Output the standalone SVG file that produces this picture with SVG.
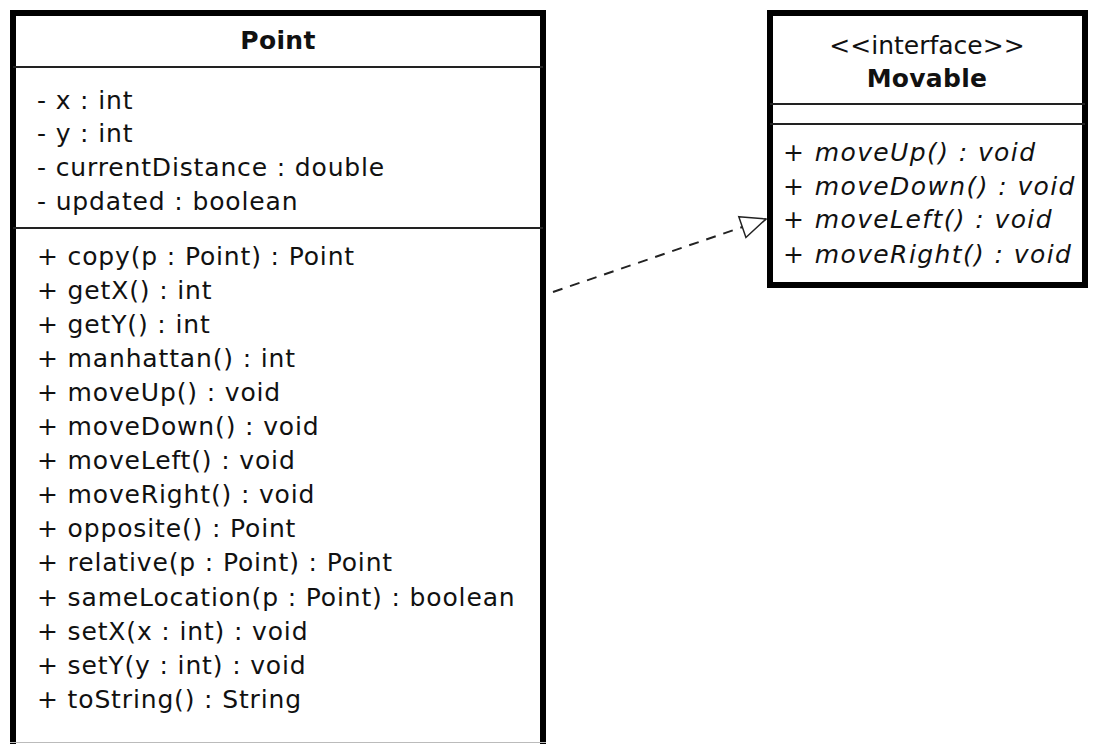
<svg xmlns="http://www.w3.org/2000/svg" width="1093" height="744" viewBox="0 0 1093 744">
<style>
.box{fill:#fff;stroke:#000;stroke-width:6}
.div{stroke:#222;stroke-width:2}
.t{font-family:"DejaVu Sans",sans-serif;font-size:25px;fill:#111;letter-spacing:0.85px}
.b{font-weight:bold;text-anchor:middle;letter-spacing:0.3px}
.i{font-style:italic;letter-spacing:1.4px}
.c{text-anchor:middle;letter-spacing:0}
.dash{fill:none;stroke:#222;stroke-width:2;stroke-dasharray:10 8}
</style>
<defs>
<marker id="tri" markerWidth="30" markerHeight="26" refX="27" refY="13" orient="auto" markerUnits="userSpaceOnUse">
<path d="M2,2 L27,13 L2,24 Z" fill="#fff" stroke="#222" stroke-width="1.5"/>
</marker>
</defs>
<rect width="1093" height="744" fill="#fff"/>
<g id="connectors">
<path class="dash" d="M553,292 L766,219" marker-end="url(#tri)"/>
</g>
<g id="Point">
<rect class="box" x="13" y="13" width="530" height="760"/>
<line class="div" x1="13" y1="67" x2="543" y2="67"/>
<line class="div" x1="13" y1="228" x2="543" y2="228"/>
<line x1="10" y1="742.5" x2="546" y2="742.5" stroke="#bbb" stroke-width="1"/>
<text class="t b" x="278" y="49">Point</text>
<text class="t" x="37" y="109">- x : int</text>
<text class="t" x="37" y="142">- y : int</text>
<text class="t" x="37" y="176">- currentDistance : double</text>
<text class="t" x="37" y="210">- updated : boolean</text>
<text class="t" x="37" y="265">+ copy(p : Point) : Point</text>
<text class="t" x="37" y="299">+ getX() : int</text>
<text class="t" x="37" y="333">+ getY() : int</text>
<text class="t" x="37" y="367">+ manhattan() : int</text>
<text class="t" x="37" y="401">+ moveUp() : void</text>
<text class="t" x="37" y="435">+ moveDown() : void</text>
<text class="t" x="37" y="469">+ moveLeft() : void</text>
<text class="t" x="37" y="503">+ moveRight() : void</text>
<text class="t" x="37" y="537">+ opposite() : Point</text>
<text class="t" x="37" y="571">+ relative(p : Point) : Point</text>
<text class="t" x="37" y="606">+ sameLocation(p : Point) : boolean</text>
<text class="t" x="37" y="640">+ setX(x : int) : void</text>
<text class="t" x="37" y="674">+ setY(y : int) : void</text>
<text class="t" x="37" y="708">+ toString() : String</text>
</g>
<g id="Movable">
<rect class="box" x="770" y="13" width="315" height="272"/>
<line class="div" x1="770" y1="104" x2="1085" y2="104"/>
<line class="div" x1="770" y1="124" x2="1085" y2="124"/>
<text class="t c" x="927" y="54">&lt;&lt;interface&gt;&gt;</text>
<text class="t b" x="927" y="87">Movable</text>
<text class="t i" x="783" y="161">+ moveUp() : void</text>
<text class="t i" x="783" y="195">+ moveDown() : void</text>
<text class="t i" x="783" y="228">+ moveLeft() : void</text>
<text class="t i" x="783" y="263">+ moveRight() : void</text>
</g>
</svg>
